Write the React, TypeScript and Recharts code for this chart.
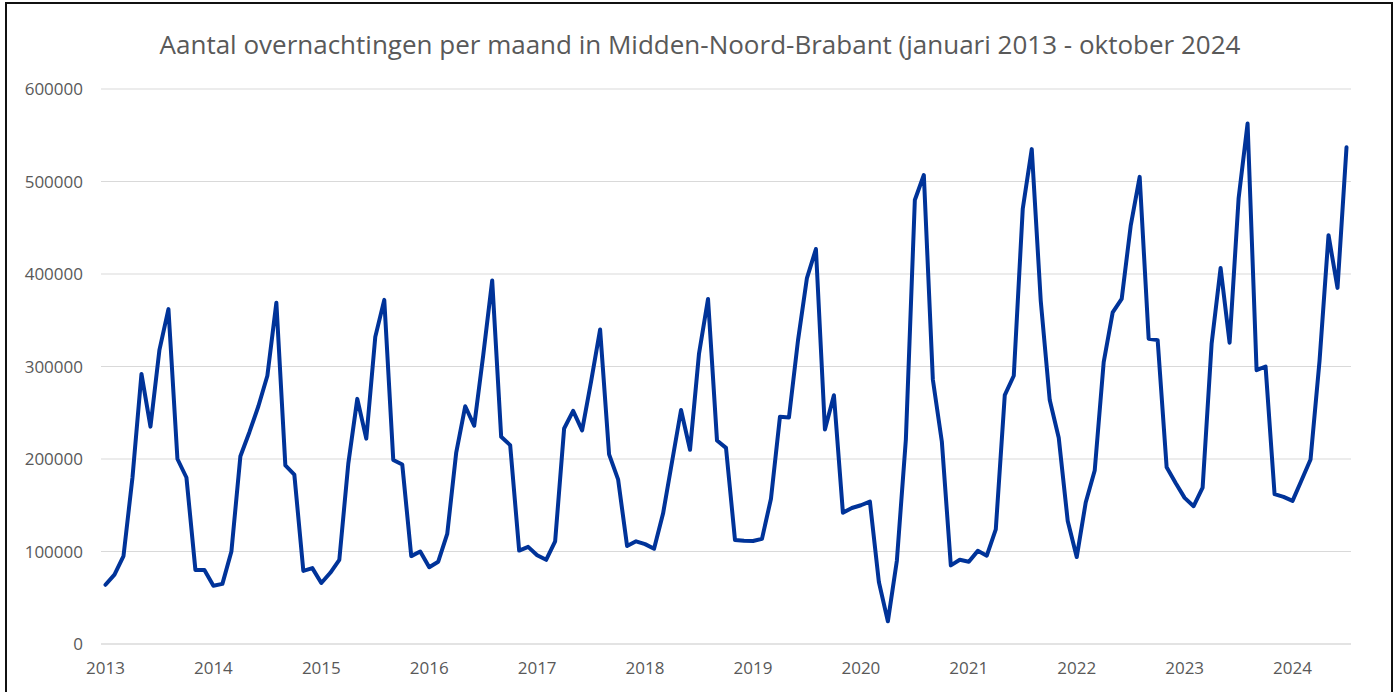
import React from 'react';
import { LineChart, Line, XAxis, YAxis, CartesianGrid } from 'recharts';

const title = 'Aantal overnachtingen per maand in Midden-Noord-Brabant (januari 2013 - oktober 2024';

const yearLabels = ['2013', '2014', '2015', '2016', '2017', '2018', '2019', '2020', '2021', '2022', '2023', '2024'];

const v2013 = [64000, 75000, 95000, 180000, 292000, 235000, 318000, 362000, 200000, 180000, 80000, 80000];
const v2014 = [63000, 65000, 100000, 203000, 229000, 257000, 290000, 369000, 193000, 183000, 79000, 82000];
const v2015 = [66000, 77000, 91000, 195000, 265000, 222000, 332000, 372000, 199000, 194000, 95000, 100000];
const v2016 = [83000, 89000, 119000, 207000, 257000, 236000, 312000, 393000, 224000, 215000, 101000, 105000];
const v2017 = [96000, 91000, 111000, 233000, 252000, 231000, 284000, 340000, 205000, 178000, 106000, 111000];
const v2018 = [108000, 103000, 141000, 197000, 253000, 210000, 314000, 373000, 220000, 212000, 112500, 111500];
const v2019 = [111300, 113700, 157000, 245600, 244800, 327700, 395600, 427000, 232000, 269000, 142000, 147000];
const v2020 = [150000, 154000, 67000, 24500, 90000, 221000, 480000, 507000, 286000, 219000, 85000, 91000];
const v2021 = [89000, 100700, 95500, 124000, 269000, 290000, 470600, 535000, 371000, 263700, 223000, 133000];
const v2022 = [94000, 153000, 187500, 304800, 358500, 373000, 452000, 505000, 330000, 328500, 191000, 174000];
const v2023 = [158000, 149000, 169000, 324500, 406600, 325700, 481600, 562600, 296000, 300000, 162000, 159000];
const v2024 = [154700, 177000, 199400, 306000, 442000, 385000, 537000];

const values = [
  ...v2013, ...v2014, ...v2015, ...v2016, ...v2017, ...v2018,
  ...v2019, ...v2020, ...v2021, ...v2022, ...v2023, ...v2024,
];

const yTicks = [0, 100000, 200000, 300000, 400000, 500000, 600000];
const xTicks = yearLabels.map((_, k) => k * 12);

const data = values.map((v, i) => ({ i, v }));

const FONT = '"Open Sans", "Noto Sans", sans-serif';
const GRAY = '#595959';

export default function App() {
  return (
    <div style={{ position: 'absolute', left: 0, top: 0, width: 1397, height: 692, overflow: 'hidden', background: '#fff' }}>
      <div
        style={{
          position: 'absolute',
          left: 5,
          top: 2,
          width: 1388,
          height: 760,
          border: '2px solid #111',
          boxSizing: 'border-box',
        }}
      />
      <div
        style={{
          position: 'absolute',
          left: 0,
          top: 26,
          width: 1400,
          textAlign: 'center',
          fontFamily: FONT,
          fontSize: 26,
          color: GRAY,
          whiteSpace: 'nowrap',
        }}
      >
        {title}
      </div>
      <div style={{ position: 'absolute', left: 0, top: 0 }}>
        <LineChart
          width={1397}
          height={692}
          data={data}
          margin={{ top: 89, right: 46, bottom: 18, left: 0 }}
        >
          <CartesianGrid horizontal vertical={false} stroke="#d9d9d9" strokeWidth={1.2} />
          <XAxis
            dataKey="i"
            type="number"
            domain={[-0.5, 138.5]}
            ticks={xTicks}
            tickFormatter={(i: number) => yearLabels[Math.round(i / 12)]}
            axisLine={{ stroke: '#d9d9d9', strokeWidth: 1.2 }}
            tickLine={false}
            tickSize={0}
            tickMargin={18}
            height={30}
            interval={0}
            tick={{ fill: GRAY, fontSize: 17, fontFamily: FONT }}
          />
          <YAxis
            domain={[0, 600000]}
            ticks={yTicks}
            axisLine={false}
            tickLine={false}
            tickSize={0}
            tickMargin={18}
            width={101}
            interval={0}
            tick={{ fill: GRAY, fontSize: 17, fontFamily: FONT }}
          />
          <Line
            type="linear"
            dataKey="v"
            stroke="#003399"
            strokeWidth={4}
            dot={false}
            strokeLinejoin="round"
            strokeLinecap="round"
            isAnimationActive={false}
          />
        </LineChart>
      </div>
    </div>
  );
}
